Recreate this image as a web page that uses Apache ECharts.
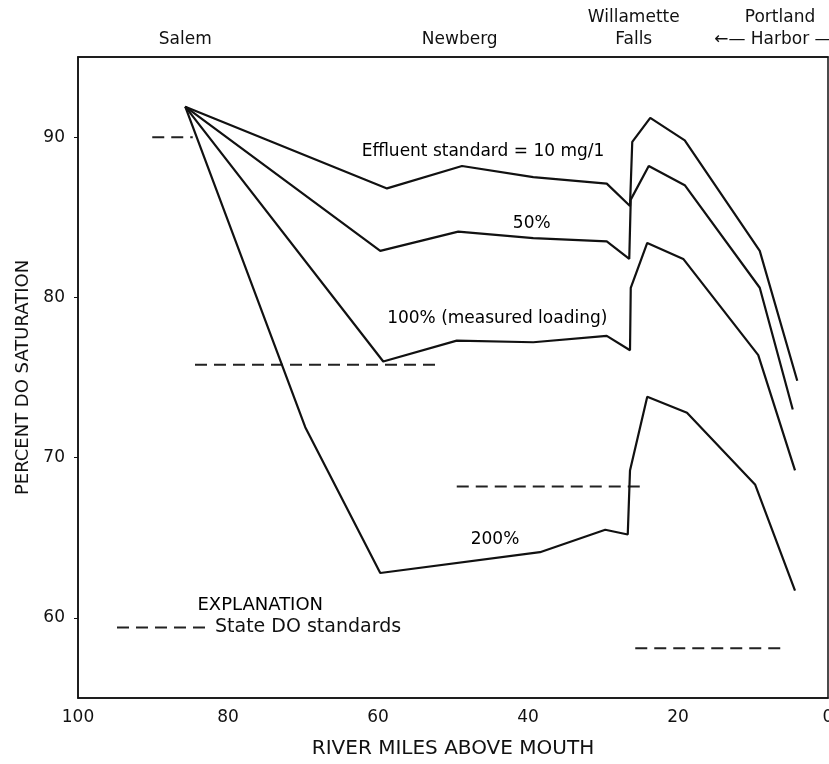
<!DOCTYPE html>
<html>
<head>
<meta charset="utf-8">
<title>Percent DO saturation</title>
<script src="https://cdn.jsdelivr.net/npm/echarts@6/dist/echarts.min.js"></script>
<style>
  html, body { margin: 0; background: #fff; }
  #main { width: 829px; height: 764px; }
</style>
</head>
<body>
<div id="main"></div>
<script>
// river miles above mouth / percent DO saturation
const milesEffluent = [85.7, 58.8, 48.8, 39.3, 29.5, 26.4, 26.1, 23.7, 19.1, 9.1, 4.1];
const doEffluent    = [91.9, 86.8, 88.2, 87.5, 87.1, 85.7, 89.7, 91.2, 89.8, 82.9, 74.8];

const miles50 = [85.7, 59.7, 49.3, 39.3, 29.5, 26.5, 26.3, 23.9, 19.1, 9.1, 4.7];
const do50    = [91.9, 82.9, 84.1, 83.7, 83.5, 82.4, 86.1, 88.2, 87.0, 80.6, 73.0];

const miles100 = [85.7, 59.3, 49.5, 39.3, 29.5, 26.4, 26.3, 24.1, 19.3, 9.3, 4.4];
const do100    = [91.9, 76.0, 77.3, 77.2, 77.6, 76.7, 80.6, 83.4, 82.4, 76.4, 69.2];

const miles200 = [85.7, 69.7, 59.7, 38.4, 29.7, 26.7, 26.4, 24.1, 18.8, 9.7, 4.4];
const do200    = [91.9, 71.9, 62.8, 64.1, 65.5, 65.2, 69.2, 73.8, 72.8, 68.3, 61.7];

// state DO standards: [from mile, to mile] and level
const stdMiles  = [[90.1, 84.7], [84.4, 52.0], [49.5, 24.8], [25.7, 6.0]];
const stdLevels = [90, 75.8, 68.2, 58.1];

// places along the top
const placeMiles = [85.7, 49.1, 25.9, 6.4];
const placeNames = ['Salem', 'Newberg', 'Willamette\nFalls', 'Portland\n\u2190\u2014 Harbor \u2014\u2192'];

// text notes inside the plot
const noteText = ['Effluent standard = 10 mg/1', '50%', '100% (measured loading)', '200%', 'EXPLANATION'];
const noteMile = [46.0, 39.5, 44.1, 44.4, 75.7];
const noteDO   = [89.1, 84.6, 78.7, 64.9, 60.8];
const noteSize = [17, 17, 17, 17, 18];

const yTicks = [60, 70, 80, 90];

const FONT = 'DejaVu Sans';
const INK = '#111';

function zip(xs, ys) {
  return xs.map((x, i) => [x, ys[i]]);
}

function curve(name, xs, ys) {
  return {
    name: name,
    type: 'line',
    data: zip(xs, ys),
    symbol: 'none',
    silent: true,
    lineStyle: { color: INK, width: 2.2 },
    z: 3
  };
}

const series = [
  curve('Effluent standard = 10 mg/1', milesEffluent, doEffluent),
  curve('50%', miles50, do50),
  curve('100%', miles100, do100),
  curve('200%', miles200, do200)
];

stdMiles.forEach((seg, i) => {
  series.push({
    name: 'State DO standards',
    type: 'line',
    data: [[seg[0], stdLevels[i]], [seg[1], stdLevels[i]]],
    symbol: 'none',
    silent: true,
    itemStyle: { color: '#222' },
    lineStyle: { color: '#222', width: 2, type: [12, 7] },
    z: 2
  });
});

series.push({
  name: 'notes',
  type: 'scatter',
  symbolSize: 0,
  silent: true,
  itemStyle: { opacity: 1 },
  data: noteText.map((t, i) => ({
    name: t,
    value: [noteMile[i], noteDO[i]],
    label: { fontSize: noteSize[i] }
  })),
  label: {
    show: true,
    position: 'inside',
    formatter: p => p.name,
    color: '#000',
    opacity: 1,
    textBorderWidth: 0,
    fontFamily: FONT,
    fontSize: 17
  },
  z: 4
});

const chart = echarts.init(document.getElementById('main'));
chart.setOption({
  animation: false,
  backgroundColor: '#fff',
  textStyle: { fontFamily: FONT, color: INK },
  grid: {
    left: 78, right: 1, top: 57, bottom: 66,
    containLabel: false, outerBoundsMode: 'none',
    show: true, borderColor: INK, borderWidth: 1.5, backgroundColor: 'transparent'
  },
  legend: {
    data: ['State DO standards'],
    left: 111, top: 613,
    itemWidth: 93, itemHeight: 14,
    itemStyle: { opacity: 0 },
    textStyle: { fontFamily: FONT, fontSize: 19, color: INK },
    selectedMode: false
  },
  xAxis: [
    {
      type: 'value', min: 0, max: 100, interval: 20, inverse: true,
      name: 'RIVER MILES ABOVE MOUTH', nameLocation: 'middle', nameGap: 41,
      nameTextStyle: { fontFamily: FONT, fontSize: 20, color: INK },
      axisLine: { onZero: false, lineStyle: { color: INK, width: 1.5 } },
      axisTick: { show: false },
      axisLabel: { margin: 11, fontFamily: FONT, fontSize: 17, color: INK, hideOverlap: false },
      splitLine: { show: false }
    },
    {
      type: 'value', position: 'top', min: 0, max: 100, inverse: true,
      axisLine: { onZero: false, lineStyle: { color: INK, width: 1.5 } },
      axisTick: { show: false },
      axisLabel: {
        customValues: placeMiles,
        formatter: v => placeNames[placeMiles.indexOf(v)] || '',
        hideOverlap: false,
        margin: 6, fontFamily: FONT, fontSize: 17, lineHeight: 22, color: INK
      },
      splitLine: { show: false }
    }
  ],
  yAxis: {
    type: 'value', min: 55, max: 95,
    name: 'PERCENT DO SATURATION', nameLocation: 'middle', nameGap: 46,
    nameTextStyle: { fontFamily: FONT, fontSize: 18, color: INK },
    axisLine: { show: true, onZero: false, lineStyle: { color: INK, width: 1.5 } },
    axisTick: { show: true, inside: false, length: 4, customValues: yTicks, lineStyle: { color: INK } },
    axisLabel: { customValues: yTicks, margin: 13, fontFamily: FONT, fontSize: 17, color: INK },
    splitLine: { show: false }
  },
  series: series
});
</script>
</body>
</html>
